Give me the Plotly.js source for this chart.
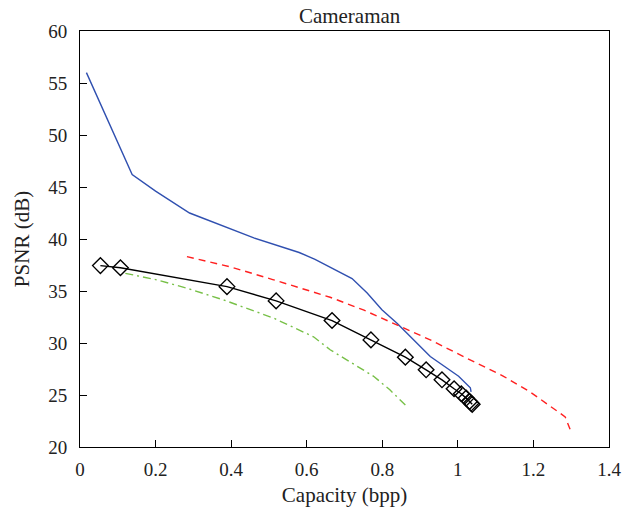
<!DOCTYPE html>
<html>
<head>
<meta charset="utf-8">
<script src="https://cdn.plot.ly/plotly-3.0.1.min.js"></script>
<style>html,body{margin:0;padding:0;background:#fff;}#chart{width:638px;height:519px;}</style>
</head>
<body>
<div id="chart"></div>
<script>
// Blue solid curve
var blueX = [0.017, 0.138, 0.2, 0.29, 0.46, 0.58, 0.622, 0.662, 0.72, 0.76, 0.799, 0.839, 0.927, 1.002, 1.033, 1.035];
var blueY = [56.0, 46.2, 44.6, 42.5, 40.1, 38.7, 38.05, 37.3, 36.2, 34.8, 33.2, 31.9, 28.7, 26.8, 25.7, 25.3];

// Black line with diamond markers
var blackX = [0.054, 0.107, 0.389, 0.519, 0.667, 0.770, 0.861, 0.916, 0.958, 0.990, 1.009, 1.022, 1.031, 1.035, 1.038];
var blackY = [37.44, 37.24, 35.42, 34.05, 32.16, 30.30, 28.64, 27.42, 26.46, 25.6, 25.12, 24.7, 24.38, 24.2, 24.1];

// Red dashed curve
var redX = [0.283, 0.4, 0.51, 0.662, 0.75, 0.847, 0.927, 1.02, 1.121, 1.191, 1.253, 1.284, 1.297];
var redY = [38.3, 37.3, 36.1, 34.4, 33.18, 31.6, 30.3, 28.6, 26.8, 25.3, 23.75, 22.9, 21.7];

// Green dash-dot curve
var greenX = [0.12, 0.2, 0.283, 0.38, 0.512, 0.618, 0.662, 0.7415, 0.777, 0.82, 0.865];
var greenY = [36.7, 36.1, 35.27, 34.14, 32.4, 30.6, 29.35, 27.6, 26.8, 25.5, 23.9];

var xTicks = [0, 0.2, 0.4, 0.6, 0.8, 1, 1.2, 1.4];
var xTickText = ['0', '0.2', '0.4', '0.6', '0.8', '1', '1.2', '1.4'];
var yTicks = [20, 25, 30, 35, 40, 45, 50, 55, 60];

var traces = [
  {x: blueX, y: blueY, mode: 'lines', line: {color: '#3050b0', width: 1.4}, showlegend: false},
  {x: redX, y: redY, mode: 'lines', line: {color: '#ff2020', width: 1.4, dash: '7px,5px'}, showlegend: false},
  {x: greenX, y: greenY, mode: 'lines', line: {color: '#78c048', width: 1.4, dash: '8px,4px,2px,4px'}, showlegend: false},
  {x: blackX, y: blackY, mode: 'lines+markers', line: {color: '#000', width: 1.4},
   marker: {symbol: 'diamond-open', size: 12, color: '#000', line: {width: 1.4, color: '#000'}}, showlegend: false}
];

var fam = '"Liberation Serif", "DejaVu Serif", serif';
var font = {family: fam, size: 19, color: '#222'};

var layout = {
  width: 638, height: 519,
  margin: {l: 80, r: 29, t: 31, b: 72, pad: 0},
  paper_bgcolor: '#fff', plot_bgcolor: '#fff',
  font: font,
  title: {text: 'Cameraman', font: {family: fam, size: 21, color: '#222'}, x: 0.548, xanchor: 'center', y: 0.969, yanchor: 'middle'},
  xaxis: {
    range: [0, 1.4], tickvals: xTicks, ticktext: xTickText,
    ticks: 'inside', ticklen: 7, tickcolor: '#000', tickwidth: 1,
    showline: true, linecolor: '#000', linewidth: 1, mirror: true,
    showgrid: false, zeroline: false,
    ticklabelstandoff: 5,
    tickfont: {family: fam, size: 19, color: '#222'},
    title: {text: 'Capacity (bpp)', font: {family: fam, size: 21, color: '#222'}, standoff: 8}
  },
  yaxis: {
    range: [20, 60], tickvals: yTicks,
    ticks: 'inside', ticklen: 7, tickcolor: '#000', tickwidth: 1,
    showline: true, linecolor: '#000', linewidth: 1, mirror: true,
    showgrid: false, zeroline: false,
    ticklabelstandoff: 8,
    tickfont: {family: fam, size: 19, color: '#222'},
    title: {text: 'PSNR (dB)', font: {family: fam, size: 21, color: '#222'}, standoff: 12}
  }
};

Plotly.newPlot('chart', traces, layout, {staticPlot: true, displayModeBar: false});
</script>
</body>
</html>
